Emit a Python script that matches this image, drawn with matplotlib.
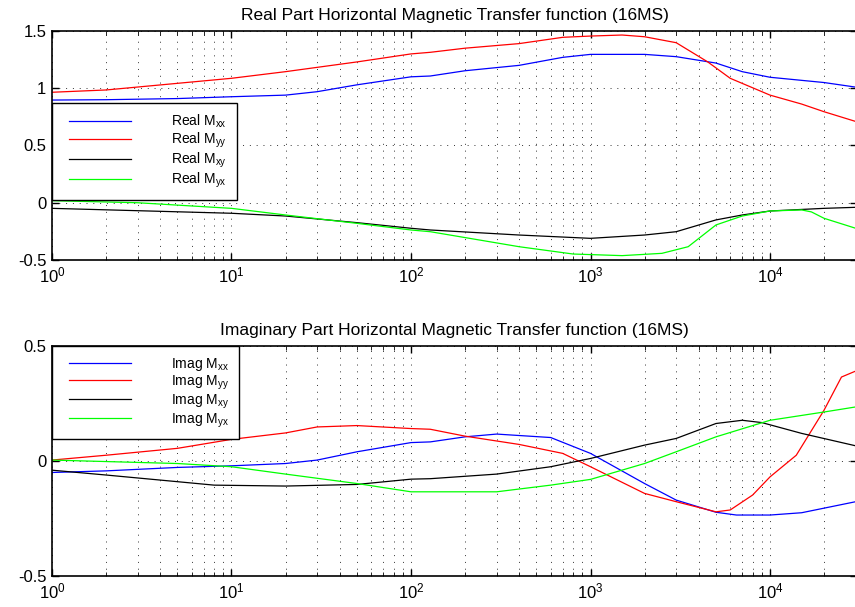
import matplotlib
matplotlib.use('Agg')
import matplotlib.pyplot as plt
from matplotlib.legend_handler import HandlerLine2D
import numpy as np

plt.rcParams['font.family'] = ['Liberation Sans', 'DejaVu Sans']
plt.rcParams['mathtext.fontset'] = 'custom'
plt.rcParams['mathtext.rm'] = 'Liberation Sans'
plt.rcParams['mathtext.it'] = 'Liberation Sans:italic'

# real part
f_rxx = [1, 2, 5, 10, 20, 30, 50, 100, 128, 200, 400, 700, 1000, 2000, 3000, 5000, 7000, 10000, 20000, 30000]
real_xx = [0.897, 0.90, 0.91, 0.926, 0.94, 0.97, 1.03, 1.10, 1.107, 1.153, 1.20, 1.27, 1.296, 1.296, 1.276, 1.22, 1.145, 1.096, 1.05, 1.01]

f_ryy = [1, 2, 5, 10, 20, 50, 100, 128, 200, 400, 700, 1000, 1500, 2000, 3000, 4500, 6000, 10000, 15000, 20000, 30000]
real_yy = [0.965, 0.985, 1.043, 1.087, 1.145, 1.23, 1.30, 1.314, 1.35, 1.39, 1.445, 1.456, 1.465, 1.45, 1.398, 1.23, 1.087, 0.94, 0.862, 0.795, 0.71]

f_rxy = [1, 10, 20, 50, 100, 128, 400, 1000, 2000, 3000, 5000, 7000, 10000, 20000, 30000]
real_xy = [-0.049, -0.092, -0.116, -0.174, -0.223, -0.238, -0.282, -0.311, -0.282, -0.253, -0.15, -0.107, -0.072, -0.049, -0.04]

f_ryx = [1, 3, 10, 20, 50, 100, 128, 400, 800, 1500, 2500, 3500, 5000, 7000, 10000, 15000, 17000, 20000, 30000]
real_yx = [0.018, 0.0, -0.049, -0.107, -0.18, -0.238, -0.253, -0.384, -0.448, -0.462, -0.442, -0.384, -0.194, -0.116, -0.072, -0.063, -0.08, -0.136, -0.223]

# imaginary part
f_ixx = [1, 2, 5, 10, 20, 30, 50, 100, 128, 200, 300, 600, 1000, 2000, 3000, 5000, 6500, 10000, 15000, 30000]
imag_xx = [-0.05, -0.043, -0.028, -0.021, -0.011, 0.004, 0.04, 0.08, 0.083, 0.105, 0.117, 0.102, 0.033, -0.098, -0.17, -0.223, -0.235, -0.235, -0.225, -0.177]

f_iyy = [1, 2, 5, 10, 20, 30, 50, 100, 128, 200, 400, 700, 1000, 2000, 3000, 5000, 6000, 8000, 10000, 14000, 20000, 25000, 30000]
imag_yy = [0.004, 0.025, 0.055, 0.094, 0.122, 0.148, 0.154, 0.141, 0.138, 0.108, 0.072, 0.033, -0.025, -0.141, -0.177, -0.221, -0.213, -0.148, -0.069, 0.025, 0.221, 0.365, 0.391]

f_ixy = [1, 2, 5, 8, 20, 50, 100, 128, 300, 600, 1000, 2000, 3000, 5000, 7000, 9000, 15000, 30000]
imag_xy = [-0.04, -0.061, -0.09, -0.105, -0.109, -0.102, -0.079, -0.077, -0.057, -0.025, 0.011, 0.069, 0.098, 0.163, 0.177, 0.167, 0.12, 0.066]

f_iyx = [1, 5, 10, 20, 50, 100, 128, 300, 600, 1000, 2000, 3000, 5000, 10000, 20000, 30000]
imag_yx = [0.004, -0.011, -0.025, -0.057, -0.098, -0.134, -0.134, -0.134, -0.105, -0.08, -0.011, 0.04, 0.105, 0.177, 0.213, 0.235]

colors = ['#0000ff', '#ff0000', '#000000', '#00ff00']
subs = ['xx', 'yy', 'xy', 'yx']


class PadLine(HandlerLine2D):
    # leave some blank room left of the legend line, like matlab does
    def get_xdata(self, legend, xdescent, ydescent, width, height, fontsize):
        x, xm = super().get_xdata(legend, xdescent, ydescent, width, height, fontsize)
        x = np.array([-xdescent + 5.0, -xdescent + width])
        return x, xm


fig = plt.figure(figsize=(8.55, 6.07), dpi=100)
ax1 = fig.add_axes([0.0608, 0.5717, 0.9415, 0.3772])
ax2 = fig.add_axes([0.0608, 0.0511, 0.9415, 0.3789])

grid_kw = dict(linestyle=(0, (1, 6)), color='#333333', linewidth=0.7)


def style(ax, ylim, yticks):
    ax.set_xscale('log')
    ax.set_xlim(1, 3.05e4)
    ax.set_ylim(*ylim)
    ax.set_yticks(yticks)
    ax.set_yticklabels(['%g' % t for t in yticks])
    ax.grid(True, which='major', **grid_kw)
    ax.grid(True, which='minor', axis='x', **grid_kw)
    ax.tick_params(which='both', direction='in', top=True, right=True, labelsize=12)
    ax.tick_params(which='major', length=5, width=1.0, pad=4)
    ax.tick_params(which='minor', length=3, width=0.6)
    for s in ax.spines.values():
        s.set_linewidth(1.2)


real_f = [f_rxx, f_ryy, f_rxy, f_ryx]
real_v = [real_xx, real_yy, real_xy, real_yx]
for fr, v, c, s in zip(real_f, real_v, colors, subs):
    ax1.plot(fr, v, color=c, linewidth=0.9, label=r'Real M$_{\rm %s}$' % s)

imag_f = [f_ixx, f_iyy, f_ixy, f_iyx]
imag_v = [imag_xx, imag_yy, imag_xy, imag_yx]
for fr, v, c, s in zip(imag_f, imag_v, colors, subs):
    ax2.plot(fr, v, color=c, linewidth=0.9, label=r'Imag M$_{\rm %s}$' % s)

style(ax1, (-0.5, 1.5), [-0.5, 0, 0.5, 1, 1.5])
style(ax2, (-0.5, 0.5), [-0.5, 0, 0.5])

ax1.set_title('Real Part Horizontal Magnetic Transfer function (16MS)', fontsize=12.5, pad=8)
ax2.set_title('Imaginary Part Horizontal Magnetic Transfer function (16MS)', fontsize=12.5, pad=8)

leg_kw = dict(loc='upper left', borderaxespad=0, fancybox=False, framealpha=1,
              edgecolor='k', fontsize=10, handlelength=5.0, handletextpad=2.9,
              labelspacing=0.05, borderpad=0.7,
              handler_map={matplotlib.lines.Line2D: PadLine()})
l1 = ax1.legend(bbox_to_anchor=(0, 0.686), **leg_kw)
l2 = ax2.legend(bbox_to_anchor=(0, 1.0), **leg_kw)
for l in (l1, l2):
    l.get_frame().set_linewidth(1.0)

plt.savefig('out.png', dpi=100)
